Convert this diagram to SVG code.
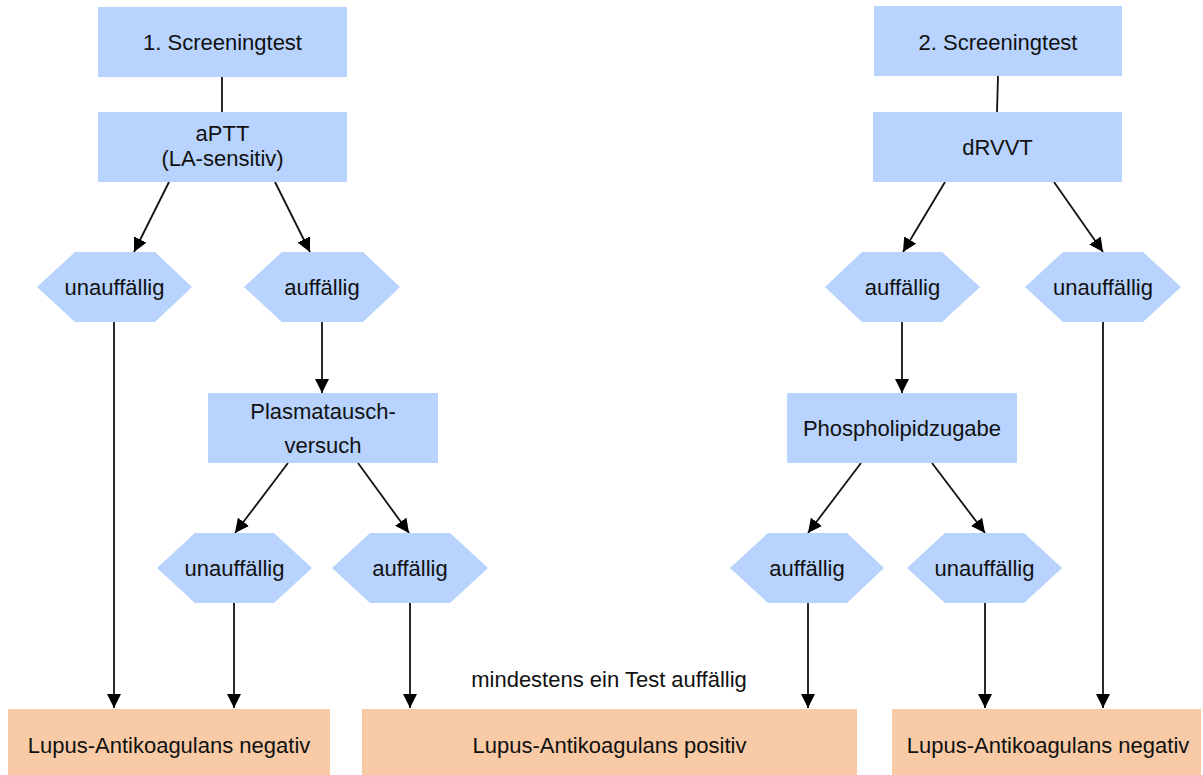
<svg xmlns="http://www.w3.org/2000/svg" width="1203" height="775" viewBox="0 0 1203 775">
<style>
text{font-family:"Liberation Sans",Arial,sans-serif;font-size:22px;fill:#111;text-anchor:middle}
.b{fill:#b7d3fe}
.o{fill:#f8cba6}
.c{stroke:#111;stroke-width:1.8;fill:none}
.a{marker-end:url(#ah)}
</style>
<defs>
<marker id="ah" viewBox="0 0 14 14" refX="14" refY="7" markerWidth="14" markerHeight="14" markerUnits="userSpaceOnUse" orient="auto">
<path d="M0,0 L14,7 L0,14 Z" fill="#000"/>
</marker>
</defs>
<rect width="1203" height="775" fill="#fff"/>
<g id="connectors">
<line class="c" x1="222" y1="77" x2="222" y2="112"/>
<line class="c" x1="998" y1="76" x2="997" y2="112"/>
<line class="c a" x1="169" y1="182" x2="134" y2="252"/>
<line class="c a" x1="275" y1="182" x2="310" y2="252"/>
<line class="c a" x1="114" y1="322" x2="114" y2="708"/>
<line class="c a" x1="322" y1="322" x2="322" y2="393"/>
<line class="c a" x1="288" y1="463" x2="235" y2="533"/>
<line class="c a" x1="358" y1="463" x2="409" y2="533"/>
<line class="c a" x1="234" y1="603" x2="234" y2="708"/>
<line class="c a" x1="410" y1="603" x2="410" y2="708"/>
<line class="c a" x1="945" y1="182" x2="903" y2="252"/>
<line class="c a" x1="1054" y1="182" x2="1103" y2="252"/>
<line class="c a" x1="902" y1="322" x2="902" y2="393"/>
<line class="c a" x1="1103" y1="322" x2="1103" y2="708"/>
<line class="c a" x1="861" y1="463" x2="808" y2="533"/>
<line class="c a" x1="932" y1="463" x2="985" y2="533"/>
<line class="c a" x1="808" y1="603" x2="808" y2="708"/>
<line class="c a" x1="985" y1="603" x2="985" y2="708"/>
</g>
<g id="screen1"><rect class="b" x="98" y="7" width="249" height="70"/><text x="222.5" y="50">1. Screeningtest</text></g>
<g id="aptt"><rect class="b" x="98" y="112" width="249" height="70"/><text x="222.5" y="141">aPTT</text><text x="222.5" y="166">(LA-sensitiv)</text></g>
<g id="hex1"><polygon class="b" points="37,287 75,252 155,252 192,287 155,322 75,322"/><text x="114.5" y="295">unauffällig</text></g>
<g id="hex2"><polygon class="b" points="244,287 282,252 363,252 400,287 363,322 282,322"/><text x="322" y="295">auffällig</text></g>
<g id="plasma"><rect class="b" x="208" y="393" width="230" height="70"/><text x="323" y="419">Plasmatausch-</text><text x="323" y="453">versuch</text></g>
<g id="hex3"><polygon class="b" points="157,568 195,533 274,533 312,568 274,603 195,603"/><text x="234.5" y="576">unauffällig</text></g>
<g id="hex4"><polygon class="b" points="332,568 370,533 450,533 488,568 450,603 370,603"/><text x="410" y="576">auffällig</text></g>
<g id="screen2"><rect class="b" x="874" y="6" width="248" height="70"/><text x="998" y="50">2. Screeningtest</text></g>
<g id="drvvt"><rect class="b" x="873" y="112" width="249" height="70"/><text x="997.5" y="155">dRVVT</text></g>
<g id="hex5"><polygon class="b" points="825,287 862,252 942,252 980,287 942,322 862,322"/><text x="902.5" y="295">auffällig</text></g>
<g id="hex6"><polygon class="b" points="1025,287 1063,252 1143,252 1181,287 1143,322 1063,322"/><text x="1103" y="295">unauffällig</text></g>
<g id="phospho"><rect class="b" x="787" y="393" width="230" height="70"/><text x="902" y="436">Phospholipidzugabe</text></g>
<g id="hex7"><polygon class="b" points="730,568 768,533 847,533 884,568 847,603 768,603"/><text x="807" y="576">auffällig</text></g>
<g id="hex8"><polygon class="b" points="907,568 945,533 1024,533 1062,568 1024,603 945,603"/><text x="984.5" y="576">unauffällig</text></g>
<g id="neg1"><rect class="o" x="8" y="709" width="322" height="66"/><text x="169" y="753">Lupus-Antikoagulans negativ</text></g>
<g id="pos"><rect class="o" x="362" y="709" width="495" height="66"/><text x="609.5" y="753">Lupus-Antikoagulans positiv</text></g>
<g id="neg2"><rect class="o" x="892" y="709" width="309" height="66"/><text x="1048" y="753">Lupus-Antikoagulans negativ</text></g>
<g id="label"><text x="609" y="687">mindestens ein Test auffällig</text></g>
</svg>
